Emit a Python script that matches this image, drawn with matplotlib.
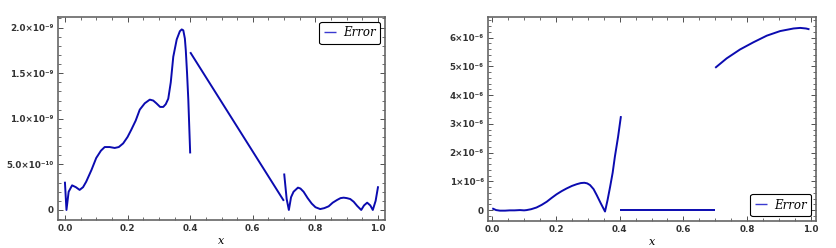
import matplotlib

matplotlib.use("Agg")
import matplotlib.pyplot as plt
from matplotlib.ticker import FixedLocator, FixedFormatter, MultipleLocator

# left panel: error (units of 1e-9), three pieces
left_x1 = [0.0, 0.005, 0.012, 0.023, 0.035, 0.047, 0.058, 0.068, 0.085, 0.1, 0.115, 0.127, 0.143,
           0.159, 0.172, 0.186, 0.2, 0.212, 0.226, 0.239, 0.255, 0.271, 0.282, 0.292, 0.304, 0.314,
           0.322, 0.33, 0.338, 0.346, 0.357, 0.367, 0.373, 0.378, 0.383, 0.386, 0.39, 0.394, 0.4]
left_y1 = [0.31, 0.0, 0.2, 0.27, 0.25, 0.22, 0.25, 0.31, 0.44, 0.57, 0.65, 0.69, 0.69,
           0.68, 0.69, 0.73, 0.8, 0.88, 0.98, 1.1, 1.17, 1.21, 1.2, 1.17, 1.13, 1.13,
           1.16, 1.22, 1.4, 1.68, 1.87, 1.96, 1.98, 1.97, 1.88, 1.75, 1.5, 1.21, 0.62]
left_x2 = [0.4, 0.699]
left_y2 = [1.73, 0.10]
left_x3 = [0.7, 0.708, 0.715, 0.722, 0.73, 0.744, 0.752, 0.762, 0.775, 0.788, 0.8, 0.815, 0.828,
           0.842, 0.855, 0.869, 0.88, 0.89, 0.9, 0.911, 0.922, 0.933, 0.946, 0.955, 0.965,
           0.975, 0.983, 0.992, 1.0]
left_y3 = [0.40, 0.12, 0.0, 0.14, 0.2, 0.245, 0.235, 0.2, 0.13, 0.07, 0.03, 0.01, 0.02,
           0.04, 0.08, 0.11, 0.13, 0.135, 0.13, 0.12, 0.09, 0.045, 0.0, 0.05, 0.08,
           0.05, 0.0, 0.1, 0.26]

# right panel: error (units of 1e-6)
right_x1 = [0.0, 0.012, 0.024, 0.04, 0.055, 0.07, 0.087, 0.1, 0.108, 0.122, 0.139, 0.155, 0.171,
            0.186, 0.202, 0.218, 0.233, 0.25, 0.265, 0.278, 0.289, 0.298, 0.307, 0.318, 0.328,
            0.34, 0.354, 0.362, 0.37, 0.378, 0.385, 0.395, 0.404]
right_y1 = [0.06, 0.0, -0.02, -0.02, -0.01, -0.01, 0.0, -0.01, 0.0, 0.03, 0.09, 0.18, 0.29,
            0.42, 0.55, 0.66, 0.75, 0.84, 0.9, 0.94, 0.95, 0.93, 0.87, 0.73, 0.52,
            0.25, -0.05, 0.35, 0.81, 1.3, 1.86, 2.55, 3.27]
right_x2 = [0.4, 0.7]
right_y2 = [0.0, 0.0]
right_x3 = [0.7, 0.736, 0.778, 0.82, 0.862, 0.904, 0.946, 0.967, 0.985, 0.996]
right_y3 = [4.95, 5.28, 5.59, 5.84, 6.07, 6.23, 6.32, 6.34, 6.32, 6.29]

left_ticks = [0.0, 0.5, 1.0, 1.5, 2.0]
left_ticklabels = ["0", "5.0×10⁻¹⁰", "1.0×10⁻⁹", "1.5×10⁻⁹", "2.0×10⁻⁹"]
right_ticks = [0, 1, 2, 3, 4, 5, 6]
right_ticklabels = ["0"] + ["%d×10⁻⁶" % v for v in right_ticks[1:]]
x_ticks = [0.0, 0.2, 0.4, 0.6, 0.8, 1.0]

LINE = "#0b0bb0"
FRAME = "#666666"

fig = plt.figure(figsize=(8.37, 2.48), dpi=100)
ax_l = fig.add_axes([0.0693, 0.1129, 0.3907, 0.8185])
ax_r = fig.add_axes([0.583, 0.1089, 0.392, 0.8226])


def style(ax, yticks, ylabels, ylim, xlim, ymin_step):
    ax.set_xlim(*xlim)
    ax.set_ylim(*ylim)
    ax.xaxis.set_major_locator(FixedLocator(x_ticks))
    ax.xaxis.set_major_formatter(FixedFormatter([f"{v:.1f}" for v in x_ticks]))
    ax.xaxis.set_minor_locator(MultipleLocator(0.05))
    ax.yaxis.set_major_locator(FixedLocator(yticks))
    ax.yaxis.set_major_formatter(FixedFormatter(ylabels))
    ax.yaxis.set_minor_locator(MultipleLocator(ymin_step))
    ax.tick_params(which="both", direction="in", top=True, right=True,
                   color="#333333", labelsize=6.3, labelcolor="#333333", pad=3)
    ax.tick_params(which="major", length=3.5, width=0.6)
    ax.tick_params(which="minor", length=2, width=0.5)
    for lab in ax.get_xticklabels() + ax.get_yticklabels():
        lab.set_fontweight("bold")
    for sp in ax.spines.values():
        sp.set_color(FRAME)
        sp.set_linewidth(1.2)
    ax.set_xlabel("x", fontstyle="italic", family="DejaVu Serif", fontsize=8, labelpad=2)


for ax, pieces in ((ax_l, [(left_x1, left_y1), (left_x2, left_y2), (left_x3, left_y3)]),
                   (ax_r, [(right_x1, right_y1), (right_x2, right_y2), (right_x3, right_y3)])):
    for i, (xs, ys) in enumerate(pieces):
        ax.plot(xs, ys, color=LINE, lw=1.4, label="Error" if i == 0 else None,
                solid_capstyle="butt")

style(ax_l, left_ticks, left_ticklabels, (-0.11, 2.116), (-0.022, 1.022), 0.1)
style(ax_r, right_ticks, right_ticklabels, (-0.38, 6.72), (-0.0135, 1.0167), 0.2)

for ax, loc in ((ax_l, "upper right"), (ax_r, "lower right")):
    leg = ax.legend(loc=loc, handlelength=1.0, handletextpad=0.6, borderpad=0.4,
                    prop={"family": "DejaVu Serif", "style": "italic", "size": 8.5},
                    fancybox=True, framealpha=1, edgecolor="black",
                    borderaxespad=0.4)
    leg.get_frame().set_linewidth(0.8)
    for h in leg.get_lines():
        h.set_linewidth(1.0)
        h.set_color("#3a3ad0")

fig.savefig("out.png", dpi=100)
